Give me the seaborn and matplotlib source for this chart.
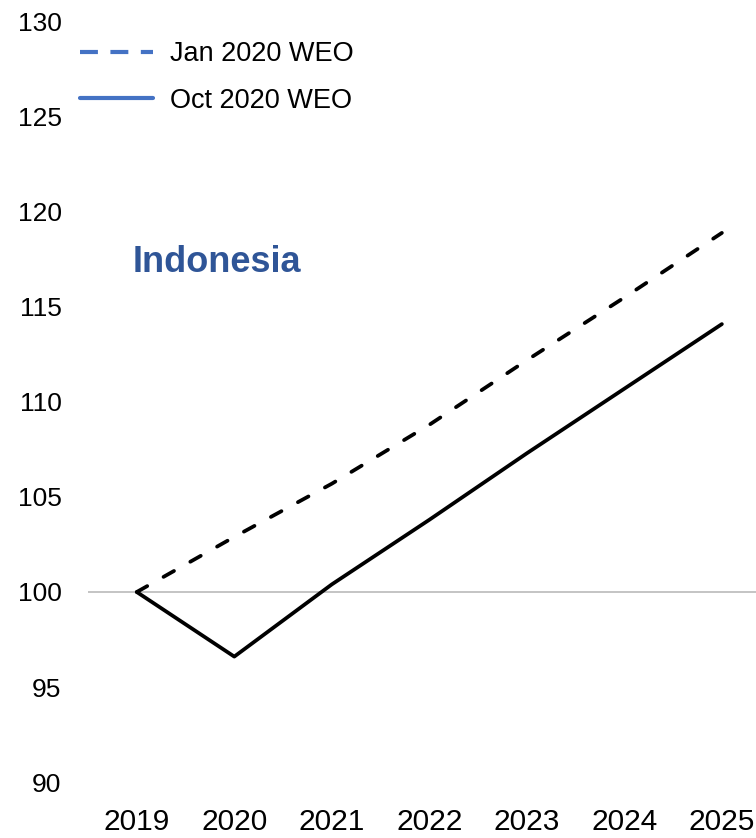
import matplotlib
matplotlib.use("Agg")
import matplotlib.pyplot as plt
from matplotlib import font_manager
from matplotlib.lines import Line2D
import seaborn as sns
import pandas as pd

# Real GDP index, 2019 = 100
years = [2019, 2020, 2021, 2022, 2023, 2024, 2025]
jan_2020_weo = [100.0, 102.9, 105.7, 108.8, 112.2, 115.5, 118.9]
oct_2020_weo = [100.0, 96.6, 100.4, 103.8, 107.3, 110.7, 114.1]
series_names = ["Jan 2020 WEO", "Oct 2020 WEO"]
y_ticks = [90, 95, 100, 105, 110, 115, 120, 125, 130]
country = "Indonesia"

df = pd.DataFrame({
    "year": years * 2,
    "value": jan_2020_weo + oct_2020_weo,
    "series": [series_names[0]] * len(years) + [series_names[1]] * len(years),
})

sns.set_theme(style="white")
plt.rcParams["font.family"] = ["Liberation Sans", "DejaVu Sans"]
plt.rcParams["text.color"] = "black"

# narrow face for the axis numbers when available
available = {f.name for f in font_manager.fontManager.ttflist}
if "Liberation Sans Narrow" in available:
    tick_family, xt_size, yt_size = "Liberation Sans Narrow", 26, 23.5
else:
    tick_family, xt_size, yt_size = "Liberation Sans", 21.5, 19

fig = plt.figure(figsize=(7.56, 8.38), dpi=100)
ax = fig.add_axes([88 / 756, 56 / 838, 1 - 88 / 756, (782 - 22) / 838])

# baseline at 100
ax.axhline(100, color="#BFBFBF", lw=1.3, zorder=1)

sns.lineplot(
    data=df, x="year", y="value", style="series",
    dashes={series_names[0]: (3.2, 5.0), series_names[1]: ""},
    color="black", linewidth=2.7, legend=False, ax=ax, zorder=3,
)
for line in ax.get_lines()[1:]:
    line.set_dash_capstyle("round")
    line.set_solid_capstyle("round")

ax.set_xlim(2018.5, 2025.35)
ax.set_ylim(90, 130)
ax.set_xticks(years)
ax.set_xticklabels([str(y) for y in years], fontfamily=tick_family, fontsize=xt_size)
ax.set_yticks(y_ticks)
ax.set_yticklabels([str(v) for v in y_ticks], fontfamily=tick_family, fontsize=yt_size)
ax.tick_params(axis="both", length=0, colors="black")
ax.tick_params(axis="y", pad=19)
ax.tick_params(axis="x", pad=19)
ax.set_xlabel("")
ax.set_ylabel("")
for s in ax.spines.values():
    s.set_visible(False)
ax.set_facecolor("none")

ax.text(45 / 668, 1 - (262 - 22) / 760, country, transform=ax.transAxes,
        fontsize=26, fontweight="bold", color="#2F5597", va="center", ha="left")

legend_color = "#4472C4"
handles = [
    Line2D([], [], color=legend_color, lw=3.0, dashes=(4.3, 3.0)),
    Line2D([], [], color=legend_color, lw=3.0),
]
fig.legend(handles, series_names, loc="upper left",
           bbox_to_anchor=(80 / 756, 1 - 41 / 838), frameon=False,
           fontsize=19.5, handlelength=2.7, handletextpad=0.62,
           labelspacing=0.77, borderpad=0, borderaxespad=0)

fig.savefig("out.png", dpi=100)
